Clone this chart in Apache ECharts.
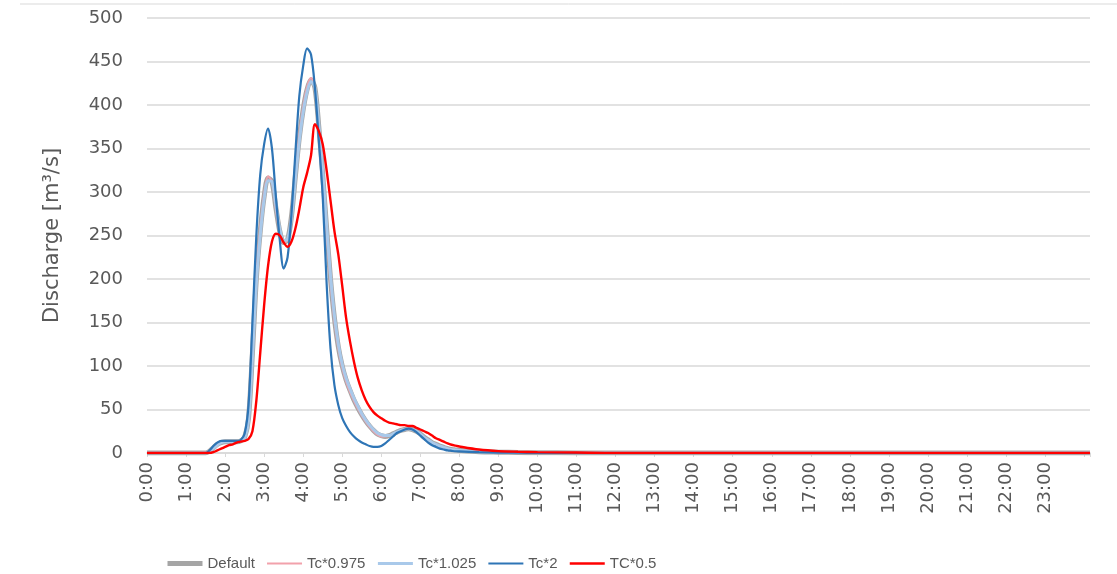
<!DOCTYPE html>
<html>
<head>
<meta charset="utf-8">
<script src="https://cdn.jsdelivr.net/npm/echarts@6/dist/echarts.min.js"></script>
<style>
html,body{margin:0;padding:0;background:#fff;}
#chart{width:1117px;height:574px;}
</style>
</head>
<body>
<div id="chart"></div>
<script>
// time in hours
const timeH = [0,
  1.5,1.6,1.7,1.8,1.9, 2.0,2.1,2.2,2.3,2.4, 2.5,2.6,2.7,2.8,2.9,
  3.0,3.1,3.2,3.3,3.4, 3.5,3.6,3.7,3.8,3.9, 4.0,4.1,4.2,4.3,4.4,
  4.5,4.6,4.7,4.8,4.9, 5.0,5.1,5.2,5.3,5.4, 5.5,5.6,5.7,5.8,5.9,
  6.0,6.1,6.2,6.3,6.4, 6.5,6.6,6.7,6.8,6.9, 7.0,7.1,7.2,7.3,7.4,
  7.5,7.6,7.7,7.8,7.9, 8.0,
  8.5,9,9.5,10,11,12,24.15];

const seriesNames = ['Default','Tc*0.975','Tc*1.025','Tc*2','TC*0.5'];

const qDefault = [0,
  0,2,6,10,12, 13,13,13,13,14, 18,40,115,200,255,
  295,316,312,282,255, 242,245,272,318,362, 395,418,429,420,375,
  320,258,200,155,122, 100,84,72,61,52, 44,37,31,26,22,
  20,19,20,22,24, 26,27,28,27,25, 22,18,15,12,10,
  8,6.5,5,4,3.5, 3,
  1.5,1,0.6,0.3,0.1,0,0];

const qTc0975 = [0,
  0,2,6,10,12, 13,13,13,13,14, 19,43,120,205,258,
  298,318,312,280,253, 241,245,273,320,365, 398,421,431,420,373,
  316,254,196,152,120, 98,82,70,60,51, 43,36,30,25,21,
  19,19,20,22,24, 26,27,28,27,25, 22,18,15,12,10,
  8,6.5,5,4,3.5, 3,
  1.5,1,0.6,0.3,0.1,0,0];

const qTc1025 = [0,
  0,2,5,9,12, 13,13,13,13,14, 17,37,110,195,250,
  292,313,312,285,258, 244,246,270,315,358, 392,415,427,420,378,
  324,262,204,158,125, 102,86,74,63,54, 45,38,32,27,23,
  21,20,20,22,24, 26,27,28,27,25, 22,18,15,12,10,
  8,6.5,5,4,3.5, 3,
  1.5,1,0.6,0.3,0.1,0,0];

const qTc2 = [0,
  0,3,8,12,14, 14,14,14,14,15, 22,55,150,250,320,
  355,373,350,295,245, 212,225,275,345,410, 445,465,458,420,360,
  295,195,120,78,55, 40,31,24,19,15, 12,10,8,7,7,
  8,11,15,19,23, 25,27,28,27,24, 20,16,12,9,7,
  5,4,3,2.5,2, 1.8,
  1,0.5,0.3,0.1,0,0,0];

const qTc05 = [0,
  0,0,1,3,5, 7,9,10,12,13, 14,16,25,60,115,
  170,215,243,252,250, 242,237,243,258,280, 305,322,342,378,370,
  355,325,290,255,228, 192,155,128,105,86, 72,61,53,47,43,
  40,37,35,34,33, 32,32,31,31,29, 27,25,23,20,17,
  15,13,11,9.5,8.5, 7.5,
  4,2.2,1.5,1,0.5,0,0];

const yTicks = {min:0, max:500, interval:50};
const xRange = {min:0, max:24.15, interval:1};

function pairs(vals){ return timeH.map((t,i)=>[t, vals[i]]); }

const styles = [
  {color:'#a5a5a5', width:5},
  {color:'#f2a1ab', width:2},
  {color:'#a9c9ea', width:3},
  {color:'#2e75b6', width:2.2},
  {color:'#ff0000', width:2.4}
];
const allVals = [qDefault, qTc0975, qTc1025, qTc2, qTc05];

const textColor = '#595959';
const chart = echarts.init(document.getElementById('chart'), null, {renderer:'canvas'});
chart.setOption({
  animation:false,
  backgroundColor:'#ffffff',
  graphic:[{type:'line', shape:{x1:20,y1:4,x2:1117,y2:4}, style:{stroke:'#d9d9d9', lineWidth:1}}],
  grid:{left:147, right:27, top:18, bottom:121, containLabel:false},
  legend:{
    orient:'horizontal', left:160, top:551, itemWidth:35, itemHeight:14, itemGap:11,
    itemStyle:{opacity:0},
    textStyle:{color:textColor, fontFamily:'Liberation Sans', fontSize:15},
    data: seriesNames.map((n,i)=>({name:n, lineStyle:{width:styles[i].width, color:styles[i].color}}))
  },
  xAxis:{
    type:'value', min:xRange.min, max:xRange.max, interval:xRange.interval,
    axisLine:{show:true, lineStyle:{color:'#d9d9d9', width:1.5}},
    axisTick:{show:true, length:4, lineStyle:{color:'#d9d9d9'}},
    splitLine:{show:false},
    axisLabel:{
      rotate:90, margin:9, color:textColor, fontFamily:'DejaVu Sans', fontSize:18,
      formatter:function(v){ return (Math.abs(v-Math.round(v))<1e-6 && v<24) ? (Math.round(v)+':00') : ''; }
    }
  },
  yAxis:{
    type:'value', min:yTicks.min, max:yTicks.max, interval:yTicks.interval,
    name:'Discharge [m³/s]', nameLocation:'middle', nameGap:84,
    nameTextStyle:{color:textColor, fontFamily:'DejaVu Sans', fontSize:21},
    axisLine:{show:false}, axisTick:{show:false},
    splitLine:{lineStyle:{color:'#d9d9d9', width:1.5}},
    axisLabel:{margin:24, color:textColor, fontFamily:'DejaVu Sans', fontSize:18}
  },
  series: seriesNames.map((n,i)=>({
    name:n, type:'line', data:pairs(allVals[i]),
    smooth:0.3, symbol:'none', showSymbol:false,
    lineStyle:{color:styles[i].color, width:styles[i].width},
    itemStyle:{color:styles[i].color},
    z: 2+i
  }))
});
</script>
</body>
</html>
